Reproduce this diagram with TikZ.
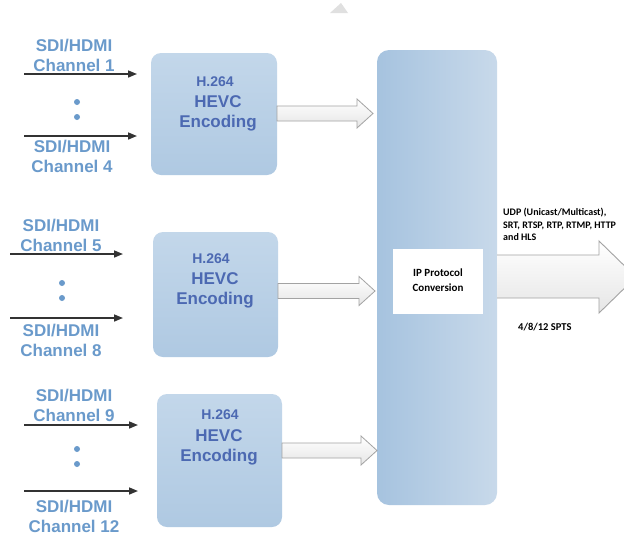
\documentclass[tikz,border=0pt]{standalone}
\usepackage{fontspec}
\setmainfont{Liberation Sans}
\newfontfamily\calib{Carlito}
\usetikzlibrary{arrows.meta}
\definecolor{lblblue}{HTML}{6A9ACB}
\definecolor{boxtxt}{HTML}{4C69B2}
\definecolor{boxtop}{HTML}{C3D7EA}
\definecolor{boxbot}{HTML}{AFC9E2}
\definecolor{bigleft}{HTML}{A6C3DF}
\definecolor{bigright}{HTML}{C8D9EA}
\definecolor{arrline}{HTML}{333333}
\definecolor{harrowline}{HTML}{A3A3A3}
\tikzset{
  enc/.style={draw=none, rounded corners=10pt, top color=boxtop, bottom color=boxbot},
  lbl/.style={text=lblblue, font=\fontsize{17}{20}\selectfont\bfseries, align=center, inner sep=0pt},
  btxt/.style={text=boxtxt, font=\fontsize{17}{20}\selectfont\bfseries, inner sep=0pt},
  bsmall/.style={text=boxtxt, font=\fontsize{14}{16}\selectfont\bfseries, inner sep=0pt},
  inarrow/.style={draw=arrline, line width=1.6pt, -{Triangle[length=9pt,width=7pt]}},
  harrow/.style={draw=harrowline, line width=0.8pt, top color=white, bottom color=black!10},
  dot/.style={circle, fill=lblblue, inner sep=0pt, minimum size=6pt},
  rtxt/.style={font=\calib\bfseries\fontsize{10}{12.5}\selectfont, inner sep=0pt, align=left, text=black}
}
\newcommand\hollowarrow[4]{% x0, x1 (tip), y, name
  \draw[harrow] (#1,#3-7.5) -- (#2-16,#3-7.5) -- (#2-16,#3-14.5) -- (#2,#3)
    -- (#2-16,#3+14.5) -- (#2-16,#3+7.5) -- (#1,#3+7.5) -- cycle;}
\begin{document}
\begin{tikzpicture}[x=1pt,y=-1pt]
\useasboundingbox[fill=white] (0,0) rectangle (624,536);
% faint triangle top
\fill[black!12] (330,13) -- (341,3) -- (348,13) -- cycle;
% big rect
\path[draw=none, rounded corners=12pt, left color=bigleft, right color=bigright]
  (377,50) rectangle (497,505);
\node[fill=white, minimum width=90pt, minimum height=65pt, inner sep=0pt] (ip) at (438,281.5) {};
\node[rtxt, align=center, font=\calib\bfseries\fontsize{11}{15}\selectfont] (iptxt) at (438,280.5) {IP Protocol\\Conversion};
% encoding boxes
\path[enc] (151,53) rectangle (277,175);
\path[enc] (153,232) rectangle (278,357);
\path[enc] (157,394) rectangle (282,527);
\node[bsmall] (h1) at (215,82) {H.264};
\node[btxt] (e1) at (218,113) {\begin{tabular}{@{}c@{}}HEVC\\[0pt]Encoding\end{tabular}};
\node[bsmall] (h2) at (211,259) {H.264};
\node[btxt] (e2) at (215,290) {\begin{tabular}{@{}c@{}}HEVC\\[0pt]Encoding\end{tabular}};
\node[bsmall] (h3) at (220,415) {H.264};
\node[btxt] (e3) at (219,447) {\begin{tabular}{@{}c@{}}HEVC\\[0pt]Encoding\end{tabular}};
% hollow arrows
\hollowarrow{277}{373}{113.5}{a1}
\hollowarrow{278}{375}{291}{a2}
\hollowarrow{282}{377}{450.5}{a3}
% big output arrow
\draw[harrow, line width=0.9pt] (497,255) -- (599,255) -- (599,241) -- (636,277)
  -- (599,313) -- (599,298) -- (497,298);
% right texts
\node[rtxt, anchor=north west] (proto) at (503,208) {UDP (Unicast/Multicast),\\SRT, RTSP, RTP, RTMP, HTTP\\and HLS};
\node[rtxt, anchor=west, font=\calib\bfseries\fontsize{10.5}{12}\selectfont] (spts) at (518,327) {4/8/12 SPTS};
% group 1
\node[lbl] (g1a) at (74,55) {SDI/HDMI\\Channel 1};
\node[lbl] (g1b) at (72,156.5) {SDI/HDMI\\Channel 4};
\coordinate (s1) at (24,74); \coordinate (t1) at (137,74);
\coordinate (s2) at (24,136); \coordinate (t2) at (137,136);
\draw[inarrow] (s1) -- (t1);
\draw[inarrow] (s2) -- (t2);
\node[dot] (d1) at (77,102) {};
\node[dot] (d2) at (77,117) {};
% group 2
\node[lbl] (g2a) at (61,235) {SDI/HDMI\\Channel 5};
\node[lbl] (g2b) at (61,340) {SDI/HDMI\\Channel 8};
\coordinate (s3) at (10,254); \coordinate (t3) at (123,254);
\coordinate (s4) at (10,318); \coordinate (t4) at (123,318);
\draw[inarrow] (s3) -- (t3);
\draw[inarrow] (s4) -- (t4);
\node[dot] (d3) at (62,283) {};
\node[dot] (d4) at (62,298) {};
% group 3
\node[lbl] (g3a) at (74,405) {SDI/HDMI\\Channel 9};
\node[lbl] (g3b) at (74,516) {SDI/HDMI\\Channel 12};
\coordinate (s5) at (24,425); \coordinate (t5) at (138,425);
\coordinate (s6) at (24,491); \coordinate (t6) at (138,491);
\draw[inarrow] (s5) -- (t5);
\draw[inarrow] (s6) -- (t6);
\node[dot] (d5) at (77,449) {};
\node[dot] (d6) at (77,464) {};
\end{tikzpicture}
\end{document}
